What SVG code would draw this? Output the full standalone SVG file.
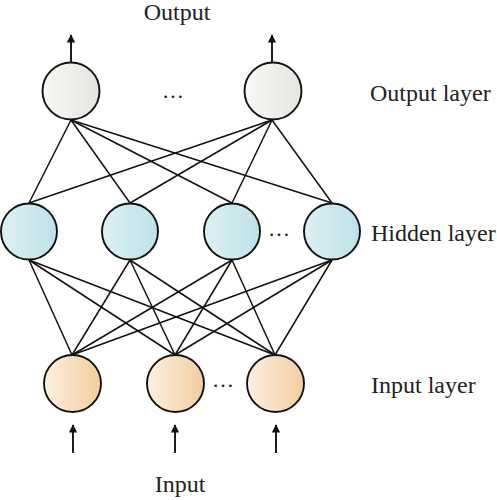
<svg xmlns="http://www.w3.org/2000/svg" width="497" height="500" viewBox="0 0 497 500">
<style>
.lbl{font-family:"Liberation Serif","Times New Roman",serif;font-size:24px;fill:#222}
.node{stroke:#111;stroke-width:1.9}
.edge{stroke:#111;stroke-width:1.5;fill:none}
.arr{stroke:#111;stroke-width:1.9;fill:none}
.dots{font-family:"Liberation Serif",serif;font-size:22px;fill:#222}
</style>
<defs>
<linearGradient id="gOut" x1="0" y1="0" x2="1" y2="0"><stop offset="0" stop-color="#f8f8f6"/><stop offset="1" stop-color="#e4e4e0"/></linearGradient>
<linearGradient id="gHid" x1="0" y1="0" x2="1" y2="0"><stop offset="0" stop-color="#ddf0f4"/><stop offset="1" stop-color="#bde1e7"/></linearGradient>
<linearGradient id="gIn" x1="0" y1="0" x2="1" y2="0"><stop offset="0" stop-color="#fdf0e0"/><stop offset="1" stop-color="#f1cd9f"/></linearGradient>
<marker id="ah" viewBox="0 0 10 10" refX="9" refY="5" markerWidth="4.6" markerHeight="4.4" orient="auto" markerUnits="strokeWidth"><path d="M0,0 L10,5 L0,10 z" fill="#111"/></marker>
</defs>
<g id="connectors">
<line class="edge" x1="71" y1="120" x2="29" y2="203"/>
<line class="edge" x1="71" y1="120" x2="130" y2="203"/>
<line class="edge" x1="71" y1="120" x2="232" y2="203"/>
<line class="edge" x1="71" y1="120" x2="332" y2="203"/>
<line class="edge" x1="272" y1="120" x2="29" y2="203"/>
<line class="edge" x1="272" y1="120" x2="130" y2="203"/>
<line class="edge" x1="272" y1="120" x2="232" y2="203"/>
<line class="edge" x1="272" y1="120" x2="332" y2="203"/>
<line class="edge" x1="29" y1="260" x2="72" y2="355"/>
<line class="edge" x1="29" y1="260" x2="175" y2="355"/>
<line class="edge" x1="29" y1="260" x2="275" y2="355"/>
<line class="edge" x1="130" y1="260" x2="72" y2="355"/>
<line class="edge" x1="130" y1="260" x2="175" y2="355"/>
<line class="edge" x1="130" y1="260" x2="275" y2="355"/>
<line class="edge" x1="232" y1="260" x2="72" y2="355"/>
<line class="edge" x1="232" y1="260" x2="175" y2="355"/>
<line class="edge" x1="232" y1="260" x2="275" y2="355"/>
<line class="edge" x1="332" y1="260" x2="72" y2="355"/>
<line class="edge" x1="332" y1="260" x2="175" y2="355"/>
<line class="edge" x1="332" y1="260" x2="275" y2="355"/>
<line class="arr" x1="71" y1="62" x2="71" y2="35" marker-end="url(#ah)"/>
<line class="arr" x1="272" y1="62" x2="272" y2="35" marker-end="url(#ah)"/>
<line class="arr" x1="73" y1="453" x2="73" y2="425" marker-end="url(#ah)"/>
<line class="arr" x1="175" y1="453" x2="175" y2="425" marker-end="url(#ah)"/>
<line class="arr" x1="276" y1="453" x2="276" y2="425" marker-end="url(#ah)"/>
</g>
<g id="out1"><circle class="node" cx="71" cy="91" r="28.5" fill="url(#gOut)"/></g>
<g id="out2"><circle class="node" cx="273" cy="91" r="28.5" fill="url(#gOut)"/></g>
<g id="hid1"><circle class="node" cx="29" cy="231.5" r="28" fill="url(#gHid)"/></g>
<g id="hid2"><circle class="node" cx="130" cy="231.5" r="28" fill="url(#gHid)"/></g>
<g id="hid3"><circle class="node" cx="232" cy="231.5" r="28" fill="url(#gHid)"/></g>
<g id="hid4"><circle class="node" cx="332" cy="231.5" r="28" fill="url(#gHid)"/></g>
<g id="in1"><circle class="node" cx="72.5" cy="383.5" r="28.5" fill="url(#gIn)"/></g>
<g id="in2"><circle class="node" cx="175.5" cy="383.5" r="28.5" fill="url(#gIn)"/></g>
<g id="in3"><circle class="node" cx="275.5" cy="383.5" r="28.5" fill="url(#gIn)"/></g>
<g id="labels">
<text class="dots" x="173" y="98" text-anchor="middle">…</text>
<text class="dots" x="279" y="236" text-anchor="middle">…</text>
<text class="dots" x="223" y="387" text-anchor="middle">…</text>
<text class="lbl" x="177" y="20" text-anchor="middle">Output</text>
<text class="lbl" x="180" y="492" text-anchor="middle">Input</text>
<text class="lbl" x="370" y="101">Output layer</text>
<text class="lbl" x="371" y="241">Hidden layer</text>
<text class="lbl" x="371" y="393">Input layer</text>
</g>
</svg>
